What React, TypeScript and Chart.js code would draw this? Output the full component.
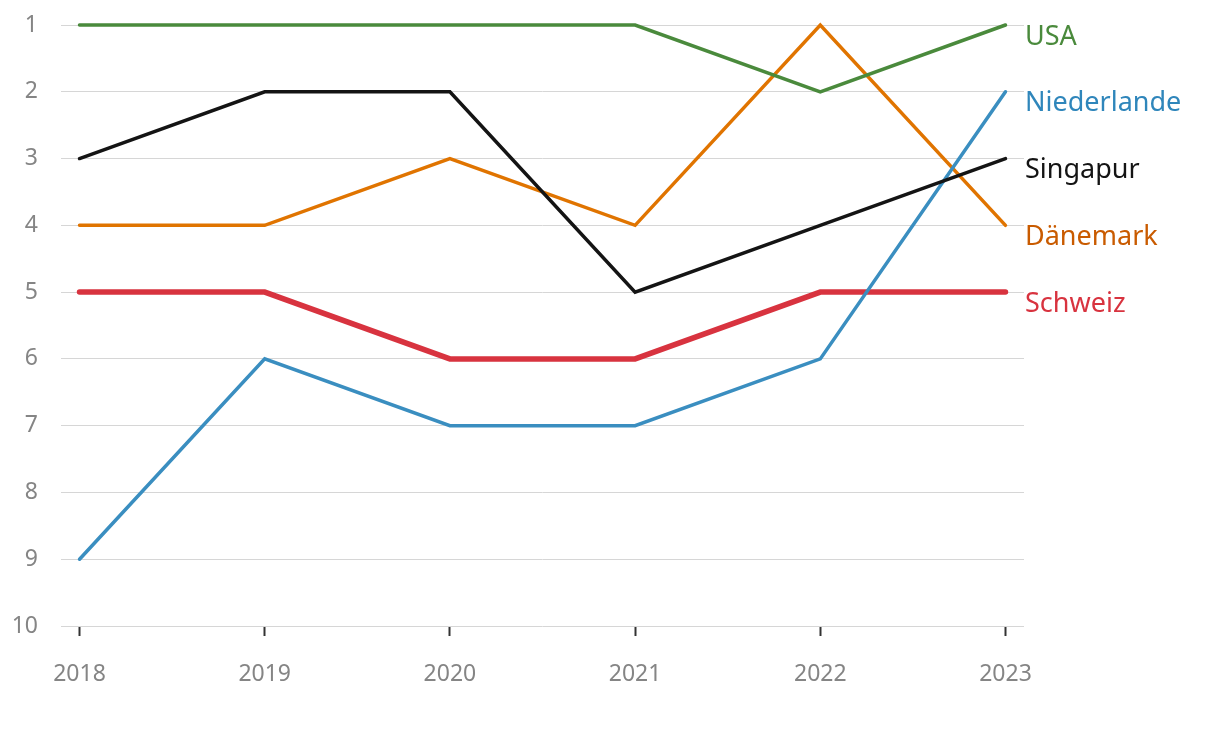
import React, { useEffect, useRef } from "react";
import { Chart, registerables } from "chart.js";

Chart.register(...registerables);

const years = [2018, 2019, 2020, 2021, 2022, 2023];
const rankTicks = [1, 2, 3, 4, 5, 6, 7, 8, 9, 10];

const seriesNames = ["Singapur", "Niederlande", "USA", "Dänemark", "Schweiz"];
const singapur = [3, 2, 2, 5, 4, 3];
const niederlande = [9, 6, 7, 7, 6, 2];
const usa = [1, 1, 1, 1, 2, 1];
const daenemark = [4, 4, 3, 4, 1, 4];
const schweiz = [5, 5, 6, 6, 5, 5];

const lineColors = ["#141414", "#3a8ec0", "#4a8a3c", "#e07400", "#d8333f"];
const labelColors = ["#141414", "#2f86bb", "#4a8a3c", "#c95b00", "#d8333f"];
const lineWidths = [3.5, 3.5, 3.5, 3.5, 5.5];

const FONT = "'Noto Sans', 'Open Sans', sans-serif";

export default function App() {
  const ref = useRef<HTMLCanvasElement | null>(null);

  useEffect(() => {
    if (!ref.current) return;
    const values = [singapur, niederlande, usa, daenemark, schweiz];
    const endLabels = {
      id: "endLabels",
      afterDatasetsDraw(chart: any) {
        const ctx = chart.ctx;
        ctx.save();
        ctx.font = `27px ${FONT}`;
        ctx.textBaseline = "middle";
        ctx.textAlign = "left";
        chart.data.datasets.forEach((ds: any, i: number) => {
          const meta = chart.getDatasetMeta(i);
          const last = meta.data[meta.data.length - 1];
          ctx.fillStyle = labelColors[i];
          ctx.fillText(seriesNames[i], chart.chartArea.right + 1, last.y + 12);
        });
        ctx.restore();
      },
    };
    const chart = new Chart(ref.current, {
      type: "line",
      data: {
        datasets: seriesNames.map((name, i) => ({
          label: name,
          data: years.map((y, j) => ({ x: y, y: values[i][j] })),
          borderColor: lineColors[i],
          backgroundColor: lineColors[i],
          borderWidth: lineWidths[i],
          pointRadius: 0,
          tension: 0,
          clip: false,
          borderCapStyle: "round",
          borderJoinStyle: "miter",
        })),
      },
      options: {
        animation: false,
        responsive: true,
        maintainAspectRatio: false,
        layout: { padding: { top: 17, right: 188, bottom: 48, left: 0 } },
        plugins: { legend: { display: false }, tooltip: { enabled: false } },
        scales: {
          x: {
            type: "linear",
            min: 2017.9,
            max: 2023.1,
            afterBuildTicks: (axis: any) => {
              axis.ticks = years.map((v) => ({ value: v }));
            },
            afterFit: (axis: any) => {
              axis.height = 70;
              axis.paddingLeft = 0;
              axis.paddingRight = 0;
            },
            grid: {
              drawOnChartArea: false,
              drawTicks: true,
              tickLength: 10,
              tickColor: "#333333",
              tickWidth: 2,
            },
            border: { display: false },
            ticks: {
              padding: 25,
              color: "#858585",
              font: { family: FONT, size: 23 },
              maxRotation: 0,
              callback: (v: any) => String(v),
            },
          },
          y: {
            reverse: true,
            min: 1,
            max: 10,
            afterBuildTicks: (axis: any) => {
              axis.ticks = rankTicks.map((v) => ({ value: v }));
            },
            afterFit: (axis: any) => {
              axis.width = 53;
              axis.paddingTop = 0;
              axis.paddingBottom = 0;
            },
            grid: { color: "#d6d6d6", lineWidth: 1, drawTicks: false },
            border: { display: false },
            ticks: {
              padding: 23,
              color: "#858585",
              font: { family: FONT, size: 23 },
            },
          },
        },
      },
      plugins: [endLabels],
    });
    return () => chart.destroy();
  }, []);

  return (
    <div style={{ width: 1204, height: 736, position: "relative" }}>
      <canvas ref={ref} />
    </div>
  );
}
